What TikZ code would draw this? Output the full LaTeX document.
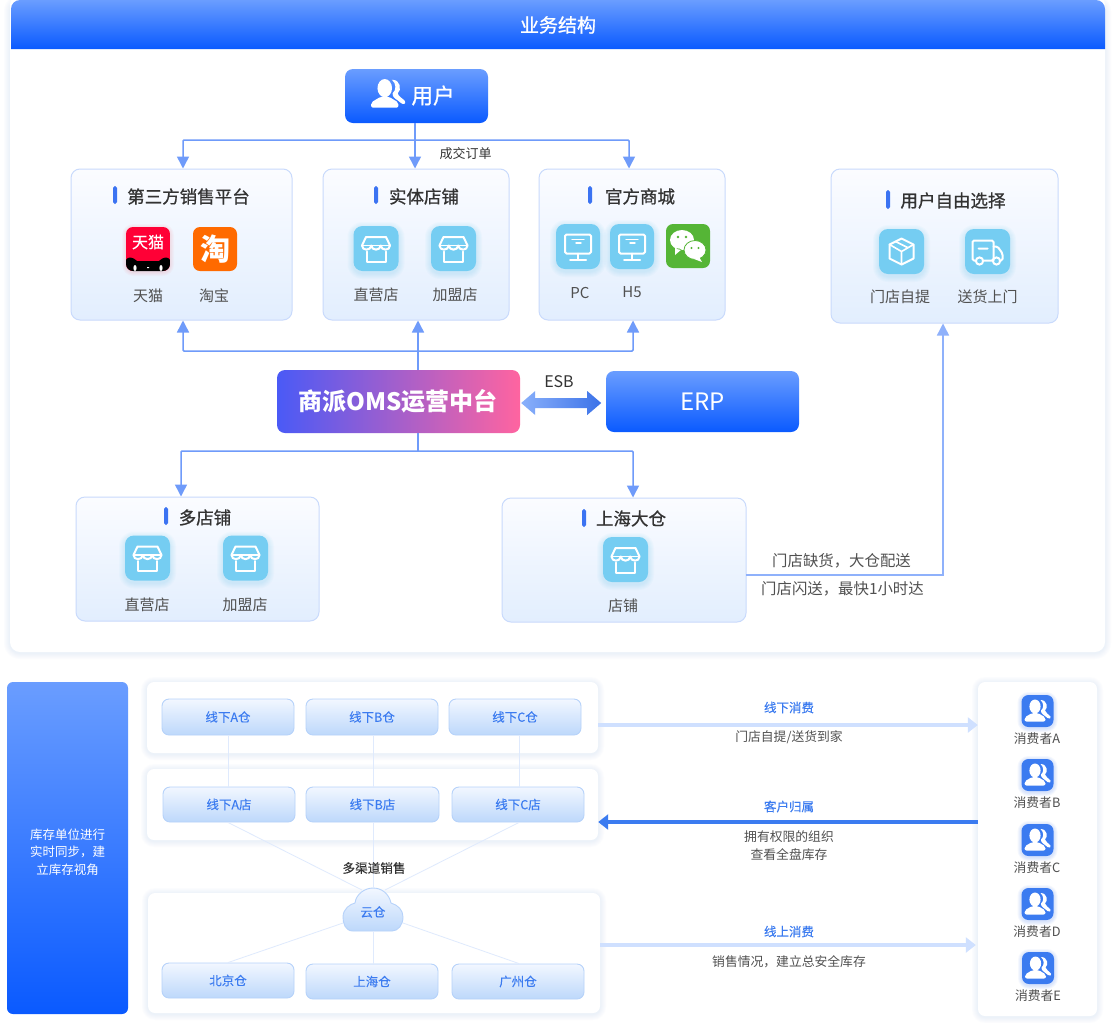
\documentclass[tikz,border=0pt]{standalone}
\usepackage{fontspec}
\setmainfont{Noto Sans CJK SC}
\newfontfamily\medfont[FakeBold=0.9]{Noto Sans CJK SC}
\newfontfamily\lightmed[FakeBold=0.2]{Noto Sans CJK SC}
\usetikzlibrary{arrows.meta,calc}
\definecolor{flow}{HTML}{6F9BFA}
\definecolor{flowb}{HTML}{8FB1FB}
\definecolor{bluetx}{HTML}{3B7BF0}
\definecolor{accent}{HTML}{3B73F2}
\definecolor{dark}{HTML}{333333}
\definecolor{mid}{HTML}{505050}
\definecolor{sky}{HTML}{75CDF2}
\definecolor{shadowc}{HTML}{A9C4F5}
\definecolor{cardline}{HTML}{C9DAFC}
\definecolor{cardtop}{HTML}{FBFCFF}
\definecolor{cardbot}{HTML}{E2EEFE}
\definecolor{btop}{HTML}{6A9DFF}
\definecolor{bbot}{HTML}{0A5AFF}
\definecolor{chipline}{HTML}{B6D2FA}
\definecolor{chiptop}{HTML}{F2F7FF}
\definecolor{chipbot}{HTML}{BDD8FB}
\definecolor{linefaint}{HTML}{DFEAFD}
\definecolor{tmallred}{HTML}{FF0036}
\definecolor{taobaoor}{HTML}{FF6A00}
\definecolor{wechatg}{HTML}{55B536}
\definecolor{omsl}{HTML}{4A5AF6}
\definecolor{omsr}{HTML}{FF64A0}
\definecolor{arrowpale}{HTML}{CFE0FF}
\definecolor{esbl}{HTML}{8AB0FB}
\definecolor{esbr}{HTML}{3B72E8}
\newcommand\fs[1]{\fontsize{#1}{#1}\selectfont}
\newcommand\boxnode[7]{\node[#1,minimum width={(#5-#3)*1pt},minimum height={(#6-#4)*1pt}] (#2) at ({(#3+#5)/2},{(#4+#6)/2}) {#7};}
\newcommand\softshadow[5]{\foreach \g in {1,...,6}{\fill[shadowc,opacity=.035,rounded corners={(#5+\g)*1pt}] ({#1-\g},{#2-\g+1}) rectangle ({#3+\g},{#4+\g+1});}}
\newcommand\skyglow[1]{\foreach \g in {1,...,6}{\fill[sky,opacity=.045,rounded corners={(9+\g)*1pt}] ({-#1-\g},{-22.5-\g+2}) rectangle ({#1+\g},{22.5+\g+2});}}
\newcommand\cardtitle[7]{\fill[accent,rounded corners=1.8pt] (#2,#3) rectangle ({#2+4},#4);
\node[cardhead] (#1) at (#5,#6) {#7};}
\tikzset{
  txt/.style={inner sep=0pt,outer sep=0pt,text=mid,font=\fs{15}},
  cardhead/.style={inner sep=0pt,text=dark,font=\fs{17.5}\medfont},
  small/.style={inner sep=0pt,text=mid,font=\fs{12.8}},
  bluelab/.style={inner sep=0pt,text=bluetx,font=\fs{12.5}\lightmed},
  card/.style={rounded corners=9pt,draw=cardline,line width=1pt,top color=cardtop,bottom color=cardbot,inner sep=0pt},
  gradbtn/.style={rounded corners=8pt,top color=btop,bottom color=bbot,inner sep=0pt,text=white},
  panel/.style={rounded corners=7pt,fill=white,inner sep=0pt},
  chip/.style={rounded corners=7pt,draw=chipline,line width=.9pt,top color=chiptop,bottom color=chipbot,inner sep=0pt,text=bluetx,font=\fs{12.5}\lightmed},
  conn/.style={draw=flow,line width=1.5pt,-{Triangle[length=12pt,width=12pt]}},
  connplain/.style={draw=flow,line width=1.5pt},
  faint/.style={draw=linefaint,line width=.8pt},
  iconstroke/.style={draw=white,line width=2pt,line join=round,line cap=round},
  shopicon/.pic={
    \skyglow{22.5}
    \fill[sky,rounded corners=9pt] (-22.5,-22.5) rectangle (22.5,22.5);
    \draw[iconstroke] (-10,-11.5) -- (10,-11.5) -- (14,-3)
      .. controls (14,2.5) and (5.2,2.5) .. (4.7,-3)
      .. controls (4.2,2.5) and (-4.2,2.5) .. (-4.7,-3)
      .. controls (-5.2,2.5) and (-14,2.5) .. (-14,-3) -- cycle;
    \draw[iconstroke,line width=1.6pt] (-14,-3) -- (14,-3);
    \draw[iconstroke] (-9.5,3) -- (-9.5,13) -- (9.5,13) -- (9.5,3);
  },
  pcicon/.pic={
    \skyglow{22}
    \fill[sky,rounded corners=9pt] (-22,-22.5) rectangle (22,22.5);
    \draw[iconstroke,rounded corners=1.5pt] (-13,-12) rectangle (13,7);
    \draw[iconstroke,line width=1.4pt] (-6,-7) -- (6,-7) (-2,-3.5) -- (3,-3.5);
    \draw[iconstroke] (0,7) -- (0,13) (-8,13) -- (8,13);
  },
  boxicon/.pic={
    \skyglow{22.5}
    \fill[sky,rounded corners=9pt] (-22.5,-22.5) rectangle (22.5,22.5);
    \draw[iconstroke] (0,-13) -- (12,-7) -- (12,7) -- (0,13) -- (-12,7) -- (-12,-7) -- cycle;
    \draw[iconstroke,line width=1.6pt] (-12,-7) -- (0,0) -- (12,-7) (0,0) -- (0,13) (-6,-10) -- (6,-4);
  },
  truckicon/.pic={
    \skyglow{22.5}
    \fill[sky,rounded corners=9pt] (-22.5,-22.5) rectangle (22.5,22.5);
    \draw[iconstroke,rounded corners=1.5pt] (-12,9) -- (-15,9) -- (-15,-11) -- (6,-11) -- (6,9) -- (-4,9);
    \draw[iconstroke,rounded corners=1.5pt] (6,-5) -- (10,-5) -- (15,2) -- (15,9) -- (13,9);
    \draw[iconstroke] (-8,9.5) circle (3.6) (9,9.5) circle (3.6) (-9,-3) -- (0,-3) (6,9) -- (5,9);
  },
  peoplemark/.pic={
    \fill[white] (-2.5,-4.5) ellipse [x radius=5.6,y radius=7];
    \fill[white,rounded corners=2pt] (-13,10.5) -- (-13,6.5) -- (-5.5,2) -- (.5,2) -- (8,6.5) -- (8,10.5) -- cycle;
    \fill[white] (3,-11) .. controls (10,-11) and (10.5,-3) .. (7.5,-.5)
       .. controls (8,2) and (11,3) .. (13,5.5)
       .. controls (14,7.5) and (12,8.5) .. (10,7)
       .. controls (7,4) and (3,3) .. (3.5,-.5)
       .. controls (6.5,-3) and (6.5,-8) .. (3,-11) -- cycle;
  },
  consumer/.pic={
    \foreach \g in {1,...,4}{\fill[bluetx,opacity=.05,rounded corners={(7+\g)*1pt}] ({-16-\g},{-16-\g+1}) rectangle ({16+\g},{16+\g+1});}
    \fill[bluetx,rounded corners=7pt] (-16,-16) rectangle (16,16);
    \pic {peoplemark};
  },
  tmallicon/.pic={
    \foreach \g in {1,...,4}{\fill[red,opacity=.025,rounded corners={(7+\g)*1pt}] ({-22-\g},{-22-\g+1}) rectangle ({22+\g},{22+\g+1});}
    \begin{scope}
      \clip[rounded corners=7pt] (-22,-22) rectangle (22,22);
      \fill[tmallred] (-22,-22) rectangle (22,22);
      \fill[black] (-22,22) -- (-22,11) .. controls (-20,7) and (-15,8) .. (-11,12) -- (11,12) .. controls (15,8) and (20,7) .. (22,11) -- (22,22) -- cycle;
      \fill[white] (-13,19) ellipse [x radius=1.6,y radius=3] (13,19) ellipse [x radius=1.6,y radius=3] (-1,18) rectangle (1,19);
    \end{scope}
    \node[inner sep=0pt,text=white,font=\fs{16}\lightmed] (glyph) at (0,-7) {天猫};
  },
  taobaoicon/.pic={
    \fill[taobaoor,rounded corners=7pt] (-22,-22) rectangle (22,22);
    \node[inner sep=0pt,text=white,font=\fs{30}\bfseries] (glyph) at (0,0) {淘};
  },
  wechaticon/.pic={
    \fill[wechatg,rounded corners=7pt] (-22,-22) rectangle (22,22);
    \fill[white] (-6,-6) ellipse [x radius=12,y radius=10] (-13,2) -- (-13,9) -- (-6,3) -- cycle;
    \filldraw[white,draw=wechatg,line width=.8pt] (7,4) ellipse [x radius=11,y radius=9.5];
    \fill[white] (11,11) -- (14,16) -- (6,13) -- cycle;
    \fill[wechatg] (-10,-9) circle (1.4) (-2,-9) circle (1.4) (3.5,2) circle (1.2) (10.5,2) circle (1.2);
  },
}
\begin{document}
\begin{tikzpicture}[x=1pt,y=-1pt]
\useasboundingbox (0,0) rectangle (1115,1023);
\fill[white] (0,0) rectangle (1115,1023);
% top panel
\softshadow{10}{0}{1105}{652}{10}
\fill[white,rounded corners=10pt] (10,-5) rectangle (1105,652);
\shade[top color=btop,bottom color=bbot] (11,49) [rounded corners=9pt] -- (11,0) -- (1105,0) [sharp corners] -- (1105,49) -- cycle;
\node[inner sep=0pt,text=white,font=\fs{19}\medfont] (head) at (558,25) {业务结构};
% user
\boxnode{gradbtn}{user}{345}{69}{488}{123}{}
\pic at (388,94) [scale=1.3] {peoplemark};
\node[inner sep=0pt,text=white,font=\fs{21.5}\medfont] (userlab) at (433,95.5) {用户};
% cards
\boxnode{card}{plat}{71}{169}{292}{320}{}
\cardtitle{platt}{113}{186}{204}{188.5}{196.5}{第三方销售平台}
\pic at (148,249) {tmallicon};
\pic at (215,249) {taobaoicon};
\node[txt] (l1) at (148,295.5) {天猫};
\node[txt] (l2) at (214,295.5) {淘宝};
\boxnode{card}{store}{323}{169}{509}{320}{}
\cardtitle{storet}{374}{186}{204}{424}{196.5}{实体店铺}
\pic at (376,248.5) {shopicon};
\pic at (453.5,248.5) {shopicon};
\node[txt] (l3) at (376,294.5) {直营店};
\node[txt] (l4) at (455,294.5) {加盟店};
\boxnode{card}{mall}{539}{169}{725}{320}{}
\cardtitle{mallt}{588}{186}{204}{640}{196.5}{官方商城}
\pic at (578,246.5) {pcicon};
\pic at (632,246.5) {pcicon};
\pic at (688,246) {wechaticon};
\node[txt] (l5) at (580,292.5) {PC};
\node[txt] (l6) at (632,292.5) {H5};
\boxnode{card}{free}{831}{169}{1058}{323}{}
\cardtitle{freet}{886}{190}{209}{953}{200.5}{用户自由选择}
\pic at (901.5,251.5) {boxicon};
\pic at (987.5,251.5) {truckicon};
\node[txt] (l7) at (900,296.5) {门店自提};
\node[txt] (l8) at (987.5,296.5) {送货上门};
% centre
\boxnode{rounded corners=8pt,left color=omsl,right color=omsr,inner sep=0pt}{oms}{277}{370}{520}{433}{}
\node[inner sep=0pt,text=white,font=\fs{24}\bfseries] (omsname) at (398,401) {商派OMS运营中台};
\boxnode{gradbtn}{erp}{606}{371}{799}{432}{\fs{24}ERP}
\node[inner sep=0pt,text=dark,font=\fs{16}] (esb) at (559,382) {ESB};
\shade[left color=esbl,right color=esbr] ([xshift=1pt,yshift=-1.5pt]oms.east) -- ++(14,-12) -- ++(0,7) -- ++(52,0) -- ++(0,-7) -- ++(14,12) -- ++(-14,12) -- ++(0,-7) -- ++(-52,0) -- ++(0,7) -- cycle;
% lower cards
\boxnode{card}{multi}{76}{497}{319}{621}{}
\cardtitle{multit}{164}{507}{525}{205}{517.5}{多店铺}
\pic at (147.5,558) {shopicon};
\pic at (245.5,558) {shopicon};
\node[txt] (l9) at (147,604.5) {直营店};
\node[txt] (l10) at (245,604.5) {加盟店};
\boxnode{card}{dc}{502}{498}{746}{622}{}
\cardtitle{dct}{582}{509}{527}{631}{518.5}{上海大仓}
\pic at (625.5,559.5) {shopicon};
\node[txt] (l11) at (623,605.5) {店铺};
% connectors upper
\coordinate (j1) at (415,140);
\coordinate (j2) at (418,351);
\coordinate (j3) at (418,451);
\draw[connplain] (user.south-|j1) -- (j1);
\draw[conn] (j1) -- (j1|-store.north);
\draw[conn,rounded corners=1pt] (j1) -| ([xshift=1.5pt]plat.north);
\draw[conn,rounded corners=1pt] (j1) -| ([xshift=-3pt]mall.north);
\draw[conn] (oms.north-|j2) -- (j2|-store.south);
\draw[conn,rounded corners=1pt] (j2) -| ([xshift=1.5pt]plat.south);
\draw[conn,rounded corners=1pt] (j2) -| ([xshift=1pt]mall.south);
\draw[connplain] (oms.south-|j3) -- (j3);
\draw[conn,rounded corners=1pt] (j3) -| ([xshift=-16.5pt]multi.north);
\draw[conn,rounded corners=1pt] (j3) -| ([xshift=9pt]dc.north);
\coordinate (dcout) at (746,575);
\draw[flowb,line width=1.5pt,-{Triangle[length=12pt,width=12pt]}] (dcout) -| ([xshift=-1.5pt]free.south);
\node[inner sep=0pt,text=dark,font=\fs{13}] (deal) at (465.5,153.5) {成交订单};
\node[txt,font=\fs{15.4}] (n1) at (841.5,560.5) {门店缺货，大仓配送};
\node[txt,font=\fs{15.4}] (n2) at (842.5,588.5) {门店闪送，最快1小时达};
% bottom section
\boxnode{rounded corners=6pt,top color=btop,bottom color=bbot,inner sep=0pt}{inv}{7}{682}{128}{1014}{}
\node[inner sep=0pt,text=white,align=center,font=\fs{12.5}] (invtext) at (67.5,852) {库存单位进行\\[5pt]实时同步，建\\[5pt]立库存视角};
\softshadow{147}{682}{598}{753}{7}
\softshadow{147}{769}{598}{840}{7}
\softshadow{148}{893}{600}{1013}{7}
\softshadow{978}{682}{1097}{1016}{7}
\boxnode{panel}{p1}{147}{682}{598}{753}{}
\boxnode{panel}{p2}{147}{769}{598}{840}{}
\boxnode{panel}{p3}{148}{893}{600}{1013}{}
\boxnode{panel}{p4}{978}{682}{1097}{1016}{}
\coordinate (ca) at (228,0);
\coordinate (cb) at (373.5,0);
\coordinate (cc) at (519,0);
\boxnode{chip}{wa}{162}{699}{294}{735}{线下A仓}
\boxnode{chip}{wb}{306}{699}{438}{735}{线下B仓}
\boxnode{chip}{wc}{449}{699}{581}{735}{线下C仓}
\boxnode{chip}{sa}{163}{787}{295}{822}{线下A店}
\boxnode{chip}{sb}{306}{787}{439}{822}{线下B店}
\boxnode{chip}{sc}{452}{787}{584}{822}{线下C店}
\boxnode{chip}{bj}{162}{963}{294}{998}{北京仓}
\boxnode{chip}{sh}{306}{964}{438}{999}{上海仓}
\boxnode{chip}{gz}{452}{964}{584}{999}{广州仓}
\draw[faint] (wa.south-|ca) -- (sa.north-|ca);
\draw[faint] (wb.south-|cb) -- (sb.north-|cb);
\draw[faint] (wc.south-|cc) -- (sc.north-|cc);
\path[draw=chipline,line width=.9pt,top color=chiptop,bottom color=chipbot]
  (353,931) .. controls (345,931) and (343,923) .. (343,917)
  .. controls (343,909) and (350,904) .. (355,903)
  .. controls (356,894) and (365,888) .. (373,888)
  .. controls (382,888) and (389,894) .. (391,903)
  .. controls (398,905) and (403,910) .. (403,917)
  .. controls (403,925) and (398,931) .. (392,931) -- cycle;
\node[inner sep=0pt,text=bluetx,font=\fs{12.5}\lightmed] (cloud) at (373,912) {云仓};
\coordinate (cnw) at (362,890);
\coordinate (cne) at (385,890);
\coordinate (csw) at (343,923);
\coordinate (cs) at (373.5,931);
\coordinate (cse) at (403,923);
\coordinate (ct) at (373.5,888);
\draw[faint] (sa.south-|ca) -- (cnw);
\draw[faint] (sb.south-|cb) -- (ct);
\draw[faint] (sc.south-|cc) -- (cne);
\draw[faint] (csw) -- (bj.north-|ca);
\draw[faint] (cs) -- (sh.north-|cb);
\draw[faint] (cse) -- (gz.north-|cc);
\node[inner sep=0pt,text=dark,font=\fs{12.6}\lightmed] (multi2) at (374,868) {多渠道销售};
% side arrows
\coordinate (y1) at (0,725);
\coordinate (y2) at (0,822);
\coordinate (y3) at (0,945);
\draw[arrowpale,line width=4pt,-{Triangle[length=10pt,width=15pt]}] (p1.east|-y1) -- (p4.west|-y1);
\draw[bluetx,line width=4pt,-{Triangle[length=10pt,width=15pt]}] (p4.west|-y2) -- (p2.east|-y2);
\draw[arrowpale,line width=4pt,-{Triangle[length=10pt,width=15pt]}] (p3.east|-y3) -- ([xshift=-2pt]p4.west|-y3);
\node[bluelab] (a1) at (789,707.5) {线下消费};
\node[small] (a2) at (789,737.5) {门店自提/送货到家};
\node[bluelab] (a3) at (789,806.5) {客户归属};
\node[small] (a4) at (789,836.5) {拥有权限的组织};
\node[small] (a5) at (789,854.5) {查看全盘库存};
\node[bluelab] (a6) at (789,931.5) {线上消费};
\node[small] (a7) at (789,961.5) {销售情况，建立总安全库存};
% consumers
\pic at (1037.5,711) {consumer};
\pic at (1037.5,775) {consumer};
\pic at (1037.5,840) {consumer};
\pic at (1037.5,904) {consumer};
\pic at (1038,968) {consumer};
\node[small] (c1) at (1037,738.5) {消费者A};
\node[small] (c2) at (1037,802.5) {消费者B};
\node[small] (c3) at (1037,867.5) {消费者C};
\node[small] (c4) at (1037,931.5) {消费者D};
\node[small] (c5) at (1038,995.5) {消费者E};
\end{tikzpicture}
\end{document}
